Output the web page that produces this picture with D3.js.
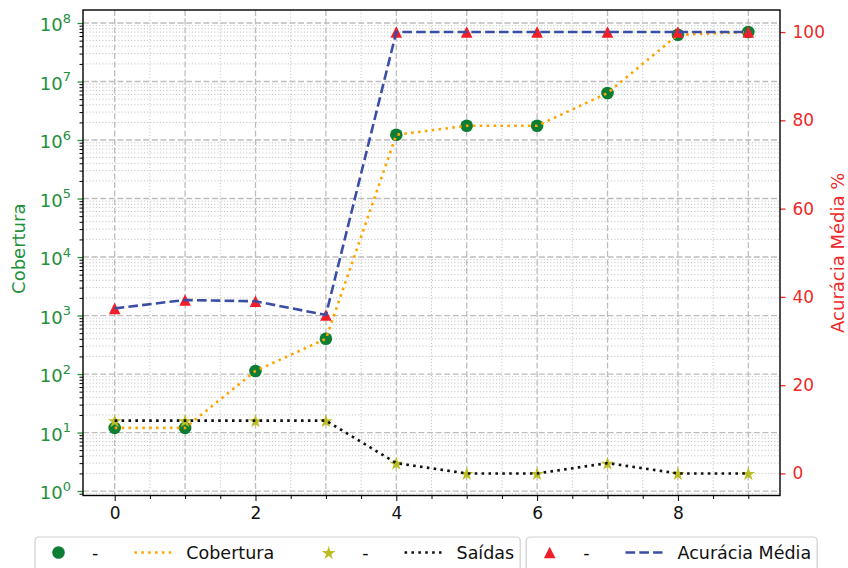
<!DOCTYPE html>
<html>
<head>
<meta charset="utf-8">
<script src="https://cdn.jsdelivr.net/npm/d3@7"></script>
<style>
  body { margin: 0; background: #fff; }
  svg { display: block; font-family: "DejaVu Sans", sans-serif; }
</style>
</head>
<body>
<svg id="chart" width="848" height="568"></svg>
<script>
// ---- data ----
const steps = [0, 1, 2, 3, 4, 5, 6, 7, 8, 9];
const cobertura = [12, 12, 113, 400, 1.23e6, 1.75e6, 1.75e6, 6.35e6, 6.3e7, 7.0e7];
const saidas = [16, 16, 16, 16, 3, 2, 2, 3, 2, 2];
const acuracia = [37.4, 39.3, 39.0, 35.9, 100, 100, 100, 100, 100, 100];
const xTicks = [0, 2, 4, 6, 8];
const leftExponents = [0, 1, 2, 3, 4, 5, 6, 7, 8];
const rightTicks = [0, 20, 40, 60, 80, 100];

// ---- styling ----
const C = {
  circle: "#0e7d34", orange: "#ffa500", star: "#bcbd22", black: "#111111",
  tri: "#f01e28", blue: "#3b4ea6",
  greenText: "#23903a", redText: "#ee2a2a",
  gridMajor: "#bdbdbd", gridMinor: "#c6c6c6"
};
const box = { left: 83, right: 780, top: 10, bottom: 495.5 };

const svg = d3.select("#chart");

// ---- scales ----
const x = d3.scaleLinear().domain([-0.45, 9.45]).range([box.left, box.right]);

const lMin = Math.log10(d3.min(saidas)), lMax = Math.log10(d3.max(cobertura));
const lPad = (lMax - lMin) * 0.05;
const yL = d3.scaleLog().domain([10 ** (lMin - lPad), 10 ** (lMax + lPad)]).range([box.bottom, box.top]);
const yR = d3.scaleLinear().domain([-5, 105]).range([box.bottom, box.top]);

// ---- grid ----
const grid = svg.append("g");
const yDom = yL.domain();
const minorY = [];
for (let d = -1; d <= 8; d++) for (let k = 2; k <= 9; k++) {
  const v = k * 10 ** d;
  if (v > yDom[0] && v < yDom[1]) minorY.push(v);
}
const majorY = leftExponents.map(e => 10 ** e);
const halfX = [];
for (let v = 0.5; v < 9.45; v += 1) halfX.push(v);

grid.selectAll(".gmy").data(minorY).join("line")
  .attr("x1", box.left).attr("x2", box.right)
  .attr("y1", d => yL(d)).attr("y2", d => yL(d))
  .attr("stroke", C.gridMinor).attr("stroke-width", 1).attr("stroke-dasharray", "1.2,2");
grid.selectAll(".gmx").data(halfX).join("line")
  .attr("x1", d => x(d)).attr("x2", d => x(d))
  .attr("y1", box.top).attr("y2", box.bottom)
  .attr("stroke", C.gridMinor).attr("stroke-width", 1).attr("stroke-dasharray", "1.2,2");
grid.selectAll(".gMy").data(majorY).join("line")
  .attr("x1", box.left).attr("x2", box.right)
  .attr("y1", d => yL(d)).attr("y2", d => yL(d))
  .attr("stroke", C.gridMajor).attr("stroke-width", 1.3).attr("stroke-dasharray", "6,2.6");
grid.selectAll(".gMx").data(steps).join("line")
  .attr("x1", d => x(d)).attr("x2", d => x(d))
  .attr("y1", box.top).attr("y2", box.bottom)
  .attr("stroke", C.gridMajor).attr("stroke-width", 1.3).attr("stroke-dasharray", "6,2.6");

// ---- markers ----
function starPath(R) {
  const r = R * 0.381966, pts = [];
  for (let i = 0; i < 10; i++) {
    const a = -Math.PI / 2 + i * Math.PI / 5, rr = i % 2 ? r : R;
    pts.push([rr * Math.cos(a), rr * Math.sin(a)]);
  }
  return "M" + pts.map(p => p.join(",")).join("L") + "Z";
}
function triPath(h) {
  return `M0,${-h}L${h},${h}L${-h},${h}Z`;
}
function marker(g, type, cx, cy) {
  if (type === "circle") {
    g.append("circle").attr("cx", cx).attr("cy", cy).attr("r", 6.3).attr("fill", C.circle);
  } else if (type === "star") {
    g.append("path").attr("d", starPath(7.2)).attr("transform", `translate(${cx},${cy + 0.8})`).attr("fill", C.star);
  } else {
    g.append("path").attr("d", triPath(5.8)).attr("transform", `translate(${cx},${cy})`).attr("fill", C.tri);
  }
}

const line = (ys, yScale) => d3.line().x((d, i) => x(steps[i])).y(d => yScale(d))(ys);
const dotted = "2.6,4.3", dashed = "9.6,4.2";

// ---- left-axis series ----
const plot = svg.append("g");
steps.forEach((s, i) => marker(plot, "circle", x(s), yL(cobertura[i])));
plot.append("path").attr("d", line(cobertura, yL)).attr("fill", "none")
  .attr("stroke", C.orange).attr("stroke-width", 2.6).attr("stroke-dasharray", dotted);
steps.forEach((s, i) => marker(plot, "star", x(s), yL(saidas[i])));
plot.append("path").attr("d", line(saidas, yL)).attr("fill", "none")
  .attr("stroke", C.black).attr("stroke-width", 2.6).attr("stroke-dasharray", dotted);

// ---- right-axis series ----
steps.forEach((s, i) => marker(plot, "tri", x(s), yR(acuracia[i])));
plot.append("path").attr("d", line(acuracia, yR)).attr("fill", "none")
  .attr("stroke", C.blue).attr("stroke-width", 2.6).attr("stroke-dasharray", dashed);

// ---- axes ----
const fs = 17;
// bottom
const minorX = [];
for (let v = 0; v <= 9; v += 0.5) if (!xTicks.includes(v)) minorX.push(v);
svg.append("g").attr("transform", `translate(0,${box.bottom})`)
  .call(d3.axisBottom(x).tickValues(minorX).tickSize(3.5).tickFormat(""))
  .call(g => g.select(".domain").remove());
svg.append("g").attr("transform", `translate(0,${box.bottom})`)
  .call(d3.axisBottom(x).tickValues(xTicks).tickSize(5.5).tickPadding(6).tickFormat(d3.format("d")))
  .call(g => g.select(".domain").remove())
  .call(g => g.selectAll("text").attr("font-size", fs).attr("fill", "#111").attr("font-family", "DejaVu Sans"));

// left
svg.append("g").attr("transform", `translate(${box.left},0)`)
  .call(d3.axisLeft(yL).tickValues(minorY).tickSize(3.5).tickFormat(""))
  .call(g => g.select(".domain").remove());
const leftAx = svg.append("g").attr("transform", `translate(${box.left},0)`)
  .call(d3.axisLeft(yL).tickValues(majorY).tickSize(5.5).tickPadding(5).tickFormat(""))
  .call(g => g.select(".domain").remove());
leftAx.selectAll(".tick line").attr("stroke", C.greenText).attr("stroke-width", 1.3);
const lfs = 18;
leftAx.selectAll(".tick").each(function (d) {
  const t = d3.select(this).select("text")
    .attr("font-size", lfs).attr("fill", C.greenText).attr("font-family", "DejaVu Sans")
    .attr("x", -12).attr("dy", null).attr("y", 7.6).attr("text-anchor", "end");
  t.append("tspan").text("10");
  t.append("tspan").attr("font-size", lfs * 0.72).attr("dy", -8.6).text(Math.round(Math.log10(d)));
});

// right
const rightAx = svg.append("g").attr("transform", `translate(${box.right},0)`)
  .call(d3.axisRight(yR).tickValues(rightTicks).tickSize(5.5).tickPadding(7).tickFormat(d3.format("d")))
  .call(g => g.select(".domain").remove());
rightAx.selectAll(".tick line").attr("stroke", C.redText).attr("stroke-width", 1.3);
rightAx.selectAll("text").attr("font-size", fs).attr("fill", C.redText).attr("font-family", "DejaVu Sans");

// frame
svg.append("rect").attr("x", box.left).attr("y", box.top)
  .attr("width", box.right - box.left).attr("height", box.bottom - box.top)
  .attr("fill", "none").attr("stroke", "#000").attr("stroke-width", 1.4);

// axis titles
const midY = (box.top + box.bottom) / 2;
svg.append("text").attr("transform", `translate(25,${midY - 4}) rotate(-90)`)
  .attr("text-anchor", "middle").attr("font-size", 18).attr("fill", C.greenText).text("Cobertura");
svg.append("text").attr("transform", `translate(844,${midY}) rotate(-90)`)
  .attr("text-anchor", "middle").attr("font-size", 18).attr("fill", C.redText).text("Acurácia Média %");

// ---- legends ----
function legend(items, left, top) {
  const g = svg.append("g");
  const frame = g.append("rect");
  const cy = top + 15.5;
  let cur = left + 5;
  items.forEach((it, i) => {
    if (i > 0) cur += 36;
    const hx0 = cur, hx1 = cur + 37;
    if (it.marker) marker(g, it.marker, (hx0 + hx1) / 2, cy);
    else g.append("line").attr("x1", hx0).attr("x2", hx1).attr("y1", cy).attr("y2", cy)
      .attr("stroke", it.color).attr("stroke-width", 2.6).attr("stroke-dasharray", it.dash);
    const t = g.append("text").attr("x", hx1 + 15).attr("y", cy + 6)
      .attr("font-size", 17.5).attr("fill", "#111").text(it.label);
    cur = hx1 + 15 + t.node().getComputedTextLength();
  });
  frame.attr("x", left).attr("y", top).attr("width", cur + 6 - left).attr("height", 40)
    .attr("rx", 4).attr("fill", "#fff").attr("stroke", "#cfcfcf").attr("stroke-width", 1.2);
  return cur + 6;
}
const end1 = legend([
  { marker: "circle", label: "-" },
  { color: C.orange, dash: dotted, label: "Cobertura" },
  { marker: "star", label: "-" },
  { color: C.black, dash: dotted, label: "Saídas" }
], 35, 537);
legend([
  { marker: "tri", label: "-" },
  { color: C.blue, dash: dashed, label: "Acurácia Média" }
], end1 + 6, 537);
</script>
</body>
</html>
